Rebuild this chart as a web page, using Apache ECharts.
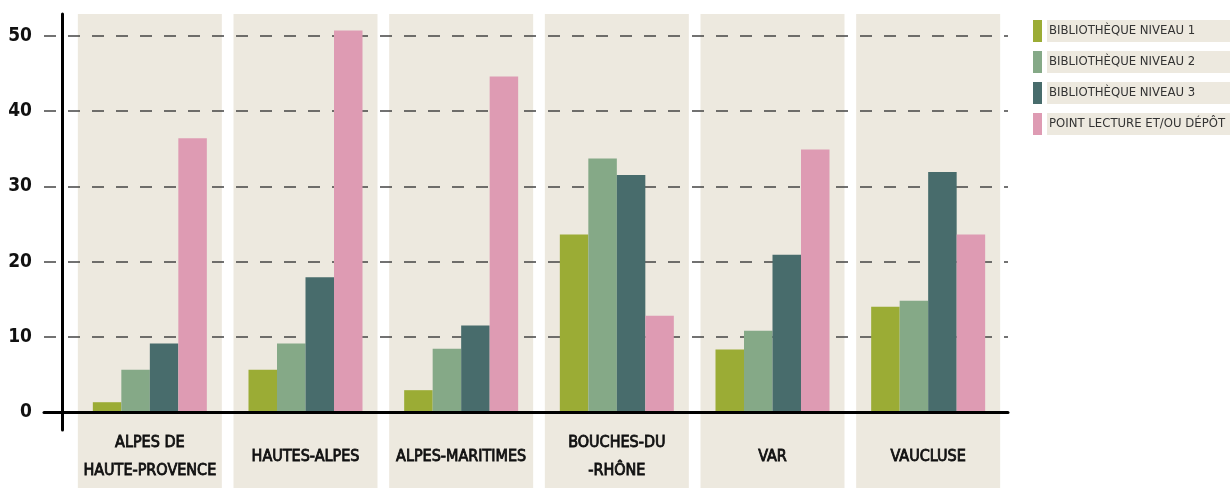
<!DOCTYPE html>
<html>
<head>
<meta charset="utf-8">
<script src="https://cdn.jsdelivr.net/npm/echarts@6/dist/echarts.min.js"></script>
<style>html,body{margin:0;padding:0;background:#fff;}#c{width:1230px;height:488px;}</style>
</head>
<body>
<div id="c"></div>
<script>
const categories = ['ALPES DE\nHAUTE-PROVENCE', 'HAUTES-ALPES', 'ALPES-MARITIMES', 'BOUCHES-DU\n-RHÔNE', 'VAR', 'VAUCLUSE'];
const seriesNames = ['BIBLIOTHÈQUE NIVEAU 1', 'BIBLIOTHÈQUE NIVEAU 2', 'BIBLIOTHÈQUE NIVEAU 3', 'POINT LECTURE ET/OU DÉPÔT'];
const niveau1 = [1.3, 5.6, 2.9, 23.6, 8.3, 14.0];
const niveau2 = [5.6, 9.1, 8.4, 33.7, 10.8, 14.8];
const niveau3 = [9.1, 17.9, 11.5, 31.5, 20.9, 31.9];
const pointLecture = [36.4, 50.7, 44.6, 12.8, 34.9, 23.6];
const panelFill = [1, 1, 1, 1, 1, 1];
const yTicks = [0, 10, 20, 30, 40, 50];

const colors = ['#9bac35', '#85a987', '#486c6c', '#de9bb3'];
const FONT = '"Liberation Sans Narrow", "DejaVu Sans Condensed", sans-serif';
const chart = echarts.init(document.getElementById('c'), null, {renderer: 'canvas'});

const values = [niveau1, niveau2, niveau3, pointLecture];
const barSeries = values.map((v, i) => ({
  name: seriesNames[i],
  type: 'bar',
  xAxisIndex: 1,
  yAxisIndex: 1,
  data: v,
  barWidth: 28.5,
  barGap: '0%',
  itemStyle: {color: colors[i]},
  z: 5,
  clip: false,
  animation: false
}));

const option = {
  animation: false,
  color: colors,
  legend: {
    orient: 'vertical',
    left: 1028,
    top: 15,
    itemWidth: 9,
    itemHeight: 22,
    itemGap: 9,
    icon: 'rect',
    selectedMode: false,
    data: seriesNames,
    textStyle: {
      fontFamily: FONT,
      fontSize: 13,
      color: '#333',
      backgroundColor: '#ede9df',
      width: 184,
      padding: [3, 0, 3, 2],
      lineHeight: 16
    }
  },
  grid: [
    {left: 44, right: 222, top: 36, bottom: 76},
    {left: 72, right: 224, top: 14, bottom: 76},
    {left: 72, right: 224, top: 14, bottom: 0},
    {left: 62, width: 1, top: 14, bottom: 58}
  ],
  xAxis: [
    {gridIndex: 0, type: 'category', data: categories, z: 8,
     axisLine: {show: true, lineStyle: {color: '#000', width: 3}},
     axisTick: {show: false}, axisLabel: {show: false}, splitLine: {show: false}},
    {gridIndex: 1, type: 'category', data: categories,
     axisLine: {show: false}, axisTick: {show: false}, splitLine: {show: false},
     axisLabel: {show: true, interval: 0, margin: 45, verticalAlign: 'middle',
       fontFamily: FONT, fontSize: 16, fontWeight: 'normal', color: '#111',
       textBorderColor: '#111', textBorderWidth: 0.8, lineHeight: 28}},
    {gridIndex: 2, type: 'category', data: categories, show: false},
    {gridIndex: 3, type: 'value', show: false}
  ],
  yAxis: [
    {gridIndex: 0, type: 'value', min: yTicks[0], max: yTicks[yTicks.length - 1], interval: 10, z: 3,
     axisLine: {show: false}, axisTick: {show: false},
     axisLabel: {show: true, margin: 12, fontFamily: FONT, fontSize: 19, fontWeight: 'bold', color: '#111'},
     splitLine: {show: true, lineStyle: {color: '#444', width: 1.5, type: [12, 12]}}},
    {gridIndex: 1, type: 'value', min: 0, max: 52.9, show: false},
    {gridIndex: 2, type: 'value', min: 0, max: 1, show: false},
    {gridIndex: 3, type: 'value', min: 0, max: 1, z: 8,
     axisLine: {show: true, lineStyle: {color: '#000', width: 3}},
     axisTick: {show: false}, axisLabel: {show: false}, splitLine: {show: false}}
  ],
  series: [
    {type: 'bar', xAxisIndex: 2, yAxisIndex: 2, data: panelFill, barWidth: 144,
     itemStyle: {color: '#ede9df'}, z: 0, silent: true, legendHoverLink: false}
  ].concat(barSeries)
};
chart.setOption(option);
</script>
</body>
</html>
